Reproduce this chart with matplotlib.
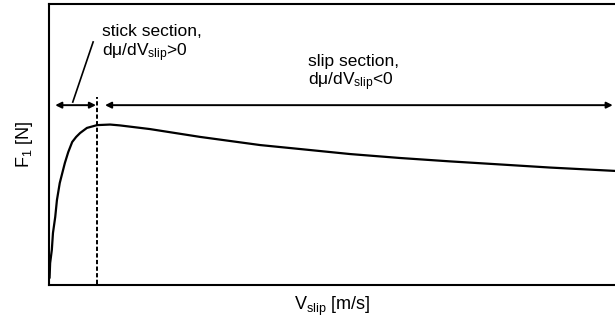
import matplotlib
matplotlib.use("Agg")
import matplotlib.pyplot as plt

plt.rcParams['font.family'] = ['Liberation Sans', 'DejaVu Sans']
plt.rcParams['mathtext.fontset'] = 'custom'
plt.rcParams['mathtext.rm'] = 'Liberation Sans'
plt.rcParams['mathtext.it'] = 'Liberation Sans:italic'
plt.rcParams['mathtext.bf'] = 'Liberation Sans:bold'

# Curve (arbitrary units, axes span 0..1)
v_slip = [0.001, 0.002, 0.005, 0.007, 0.011, 0.014, 0.019, 0.028, 0.034, 0.041,
          0.048, 0.055, 0.067, 0.085, 0.108, 0.125, 0.178, 0.267, 0.373, 0.443,
          0.532, 0.620, 0.708, 0.797, 0.885, 1.0]
force = [0.025, 0.078, 0.125, 0.185, 0.242, 0.302, 0.363, 0.434, 0.473, 0.509,
         0.527, 0.541, 0.559, 0.569, 0.571, 0.568, 0.555, 0.527, 0.498, 0.484,
         0.466, 0.452, 0.440, 0.429, 0.418, 0.406]
v_peak = 0.085
arrow_y = 0.64
stick_text = ["stick section,", "dμ/dV$_{\\mathrm{slip}}$>0"]
slip_text = ["slip section,", "dμ/dV$_{\\mathrm{slip}}$<0"]
x_label = "V$_{\\mathrm{slip}}$ [m/s]"
y_label = "F$_{\\mathrm{1}}$ [N]"

fig = plt.figure(figsize=(6.15, 3.25), dpi=100)
ax = fig.add_axes([49/615, 40/325, 1 - 49/615, 281/325])
ax.set_xlim(0, 1)
ax.set_ylim(0, 1)
for s in ['left', 'bottom', 'top']:
    ax.spines[s].set_linewidth(1.5)
ax.spines['right'].set_visible(False)
ax.set_xticks([])
ax.set_yticks([])

ax.plot(v_slip, force, color='black', lw=1.6, solid_capstyle='round',
        solid_joinstyle='round')
ax.plot([v_peak, v_peak], [0.005, 0.67], color='black', lw=1.4,
        linestyle=(0, (2.2, 1.2)))

arrowprops = dict(arrowstyle='<|-|>', color='black', lw=1.4,
                  mutation_scale=9, shrinkA=0, shrinkB=0)
ax.annotate('', xy=(0.011, arrow_y), xytext=(0.083, arrow_y),
            arrowprops=arrowprops)
ax.annotate('', xy=(0.099, arrow_y), xytext=(0.996, arrow_y),
            arrowprops=arrowprops, annotation_clip=False)
ax.plot([0.042, 0.078], [0.651, 0.865], color='black', lw=1.2)

fs = 12.5
ax.text(0.094, 0.886, stick_text[0], fontsize=fs, va='baseline', ha='left')
ax.text(0.094, 0.815, stick_text[1], fontsize=fs, va='baseline', ha='left')
ax.text(0.458, 0.779, slip_text[0], fontsize=fs, va='baseline', ha='left')
ax.text(0.458, 0.712, slip_text[1], fontsize=fs, va='baseline', ha='left')

ax.set_xlabel(x_label, fontsize=13, labelpad=7)
ax.set_ylabel(y_label, fontsize=13, labelpad=10)

fig.savefig('out.png', dpi=100)
